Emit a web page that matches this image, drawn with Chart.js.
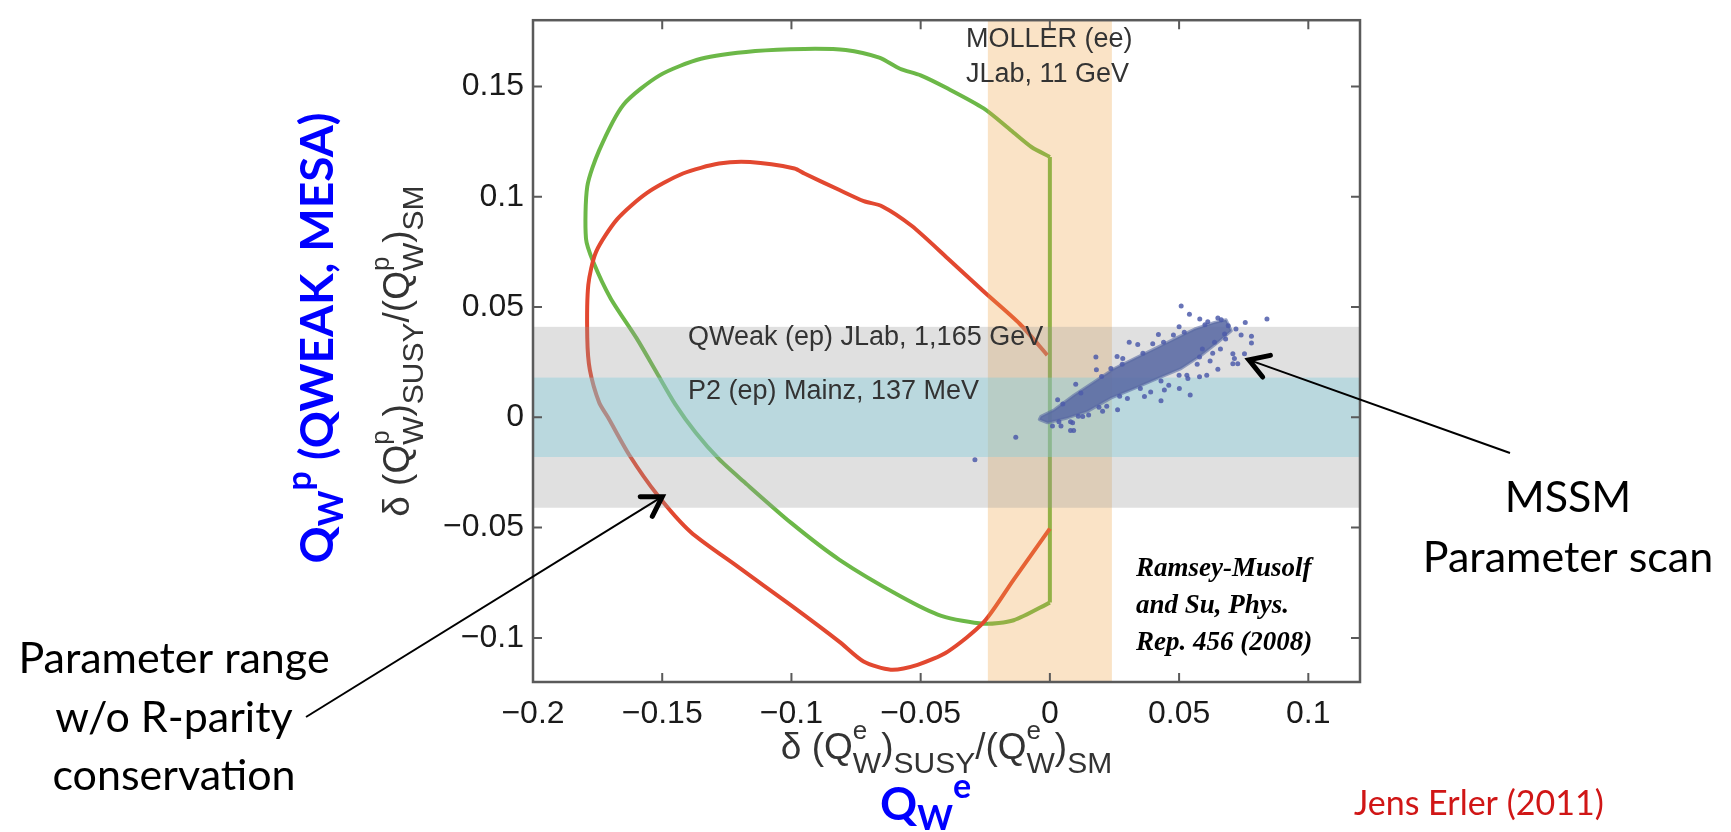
<!DOCTYPE html>
<html><head><meta charset="utf-8">
<script src="https://cdn.jsdelivr.net/npm/chart.js@4.4.1/dist/chart.umd.min.js"></script>
<style>html,body{margin:0;padding:0;background:#fff;overflow:hidden}canvas{display:block}</style>
</head><body>
<canvas id="c" width="1731" height="832"></canvas>
<script>
// ---------- data ----------
const xTicks = [-0.2, -0.15, -0.1, -0.05, 0, 0.05, 0.1];
const yTicks = [-0.1, -0.05, 0, 0.05, 0.1, 0.15];
const xRange = [-0.2, 0.12];
const yRange = [-0.12, 0.18];

const mollerBand = [-0.024, 0.024];   // MOLLER (ee), vertical band on x
const qweakBand  = [-0.041, 0.041];   // QWeak (ep), horizontal band on y
const p2Band     = [-0.018, 0.018];   // P2 (ep), horizontal band on y

// green contour (first two points: the straight side at x = 0)
const greenX = [0, 0, -0.007, -0.015, -0.0256, -0.0395, -0.050, -0.058, -0.066, -0.079, -0.095, -0.114, -0.135, -0.151, -0.165, -0.1744, -0.179, -0.1795, -0.1767, -0.170, -0.160, -0.152, -0.145, -0.137, -0.128, -0.1186, -0.100, -0.0814, -0.058, -0.042, -0.0256, -0.014, 0];
const greenY = [-0.084, 0.118, 0.1224, 0.130, 0.140, 0.149, 0.155, 0.158, 0.163, 0.1665, 0.167, 0.166, 0.1625, 0.155, 0.1417, 0.121, 0.1046, 0.081, 0.0705, 0.054, 0.036, 0.020, 0.006, -0.007, -0.019, -0.029, -0.048, -0.0646, -0.081, -0.090, -0.0936, -0.092, -0.084];

// red contour (w/o R-parity conservation)
const redX = [0, -0.014, -0.0256, -0.0395, -0.0512, -0.0616, -0.0721, -0.0814, -0.100, -0.1209, -0.139, -0.152, -0.1628, -0.171, -0.1744, -0.178, -0.179, -0.1786, -0.1756, -0.1674, -0.156, -0.142, -0.128, -0.116, -0.0988, -0.095, -0.0814, -0.072, -0.065, -0.0535, -0.0395, -0.0256, -0.0116, -0.001];
const redY = [-0.0505, -0.0736, -0.0929, -0.1062, -0.1122, -0.1144, -0.1107, -0.1018, -0.0854, -0.0676, -0.052, -0.035, -0.017, 0.0, 0.0067, 0.0215, 0.036, 0.060, 0.075, 0.0898, 0.1016, 0.1105, 0.115, 0.1157, 0.1128, 0.1105, 0.103, 0.098, 0.0957, 0.0868, 0.072, 0.057, 0.0423, 0.0282];

// dense core of the MSSM parameter scan (outline)
const coreX = [-0.0041, -0.0009, 0.0068, 0.0146, 0.0236, 0.0327, 0.0417, 0.0508, 0.0585, 0.065, 0.0702, 0.0682, 0.0637, 0.056, 0.0482, 0.0404, 0.0327, 0.0249, 0.0172, 0.0094, 0.0017, -0.0035];
const coreY = [-0.001, -0.0025, -0.0003, 0.0027, 0.0087, 0.0131, 0.0176, 0.0221, 0.028, 0.034, 0.0392, 0.0442, 0.043, 0.040, 0.0355, 0.031, 0.0266, 0.0221, 0.0161, 0.0101, 0.0034, 0.0004];

// individual scan points
const scanX = [0.0508, 0.054, 0.084, 0.0756, 0.074, 0.078, 0.078, 0.0708, 0.0753, 0.0714, 0.0708, 0.0727, 0.065, 0.0607, 0.0579, 0.0543, 0.0534, 0.0501, 0.043, 0.0443, 0.0366, 0.0178, 0.0307, 0.0398, 0.0478, 0.0262, 0.0204, 0.0127, 0.0088, 0.0092, 0.0043, -0.0132, 0.0282, 0.0236, 0.0579, 0.059, 0.0637, 0.0676, 0.0611, 0.0663, -0.029, 0.008, 0.005, 0.012, 0.020, 0.028, 0.036, 0.044, 0.052, 0.060, 0.0035, 0.011, 0.019, 0.027, 0.035, 0.043, 0.050, 0.057, 0.063, 0.068,
  0.039, 0.046, 0.053, 0.030, 0.022, 0.015, 0.008, 0.001, 0.062, 0.066, 0.069, 0.072, 0.065, 0.058, 0.050, 0.042, 0.034, 0.026, 0.018, 0.010, 0.003];
const scanY = [0.0504, 0.0467, 0.0445, 0.043, 0.0373, 0.0367, 0.0337, 0.0288, 0.0288, 0.0266, 0.0243, 0.0243, 0.0218, 0.0191, 0.0184, 0.0101, 0.0176, 0.0131, 0.0075, 0.0124, 0.0094, 0.0273, 0.034, 0.0333, 0.0373, 0.0034, 0.0027, 0.0004, -0.0025, -0.006, -0.004, -0.009, 0.0266, 0.0221, 0.0273, 0.031, 0.034, 0.0378, 0.0433, 0.0442, -0.0193, -0.006, 0.006, 0.011, 0.0185, 0.024, 0.029, 0.034, 0.0385, 0.042, -0.002, 0.0005, 0.0045, 0.0095, 0.013, 0.0165, 0.019, 0.024, 0.029, 0.0355,
  0.0115, 0.0145, 0.019, 0.0085, 0.005, 0.001, -0.002, -0.004, 0.0255, 0.031, 0.0415, 0.040, 0.045, 0.0445, 0.041, 0.0375, 0.033, 0.0275, 0.0215, 0.015, 0.008];

// ---------- helpers ----------
const zip = (xs, ys) => xs.map((x, i) => ({x: x, y: ys[i]}));
const fmt = v => (v < 0 ? '\u2212' + String(-v) : String(v));

function segWidth(ctx, s) {
  if (s.stack) {
    ctx.font = s.fsub; const a = ctx.measureText(s.sub).width;
    ctx.font = s.fsup; const b = ctx.measureText(s.sup).width;
    return Math.max(a, b);
  }
  ctx.font = s.f;
  return ctx.measureText(s.t).width;
}
function drawRich(ctx, segs, x, y, align) {
  const total = segs.reduce((w, s) => w + segWidth(ctx, s), 0);
  let cx = align === 'left' ? x : x - total / 2;
  ctx.textAlign = 'left';
  ctx.textBaseline = 'alphabetic';
  for (const s of segs) {
    const w = segWidth(ctx, s);
    if (s.stack) {
      ctx.font = s.fsub; ctx.fillText(s.sub, cx, y + s.dsub);
      ctx.font = s.fsup; ctx.fillText(s.sup, cx, y + s.dsup);
    } else {
      ctx.font = s.f;
      ctx.fillText(s.t, cx, y + (s.dy || 0));
    }
    cx += w;
  }
}
function arrow(ctx, x0, y0, x1, y1) {
  ctx.save();
  ctx.strokeStyle = '#000';
  ctx.lineWidth = 2;
  ctx.beginPath(); ctx.moveTo(x0, y0); ctx.lineTo(x1, y1); ctx.stroke();
  const ang = Math.atan2(y0 - y1, x0 - x1), L = 22, sp = 0.55;
  ctx.lineWidth = 5; ctx.lineCap = 'round'; ctx.lineJoin = 'miter';
  ctx.beginPath();
  ctx.moveTo(x1 + L * Math.cos(ang + sp), y1 + L * Math.sin(ang + sp));
  ctx.lineTo(x1, y1);
  ctx.lineTo(x1 + L * Math.cos(ang - sp), y1 + L * Math.sin(ang - sp));
  ctx.stroke();
  ctx.restore();
}

const overlay = {
  id: 'overlay',
  afterDatasetDraw(chart, args) {
    if (args.index !== 2) return;   // after the contours, before the scan points
    const {ctx, chartArea: a, scales: {x, y}} = chart;
    // translucent experiment bands over the contours
    ctx.save();
    ctx.beginPath(); ctx.rect(a.left, a.top, a.right - a.left, a.bottom - a.top); ctx.clip();
    const x0 = x.getPixelForValue(mollerBand[0]), x1 = x.getPixelForValue(mollerBand[1]);
    ctx.fillStyle = 'rgba(238,162,65,0.3)';
    ctx.fillRect(x0, a.top, x1 - x0, a.bottom - a.top);
    let y0 = y.getPixelForValue(qweakBand[1]), y1 = y.getPixelForValue(qweakBand[0]);
    ctx.fillStyle = 'rgba(152,152,152,0.3)';
    ctx.fillRect(a.left, y0, a.right - a.left, y1 - y0);
    y0 = y.getPixelForValue(p2Band[1]); y1 = y.getPixelForValue(p2Band[0]);
    ctx.fillStyle = 'rgba(129,204,219,0.4)';
    ctx.fillRect(a.left, y0, a.right - a.left, y1 - y0);
    ctx.restore();
    // dense core of the scan
    ctx.save();
    ctx.beginPath();
    coreX.forEach((v, i) => {
      const px = x.getPixelForValue(v), py = y.getPixelForValue(coreY[i]);
      if (i === 0) ctx.moveTo(px, py); else ctx.lineTo(px, py);
    });
    ctx.closePath();
    ctx.fillStyle = 'rgba(90,106,164,0.88)';
    ctx.strokeStyle = 'rgba(90,106,164,0.6)';
    ctx.lineWidth = 3; ctx.lineJoin = 'round';
    ctx.fill(); ctx.stroke();
    ctx.restore();
  },
  afterDraw(chart) {
    const {ctx, chartArea: a, scales: {x, y}} = chart;
    ctx.save();
    // frame + inward ticks
    ctx.strokeStyle = '#5a5a5a';
    ctx.lineWidth = 2.5;
    ctx.strokeRect(a.left, a.top, a.right - a.left, a.bottom - a.top);
    ctx.lineWidth = 2;
    ctx.beginPath();
    const T = 9;
    xTicks.forEach(v => {
      const px = x.getPixelForValue(v);
      ctx.moveTo(px, a.bottom); ctx.lineTo(px, a.bottom - T);
      ctx.moveTo(px, a.top); ctx.lineTo(px, a.top + T);
    });
    yTicks.forEach(v => {
      const py = y.getPixelForValue(v);
      ctx.moveTo(a.left, py); ctx.lineTo(a.left + T, py);
      ctx.moveTo(a.right, py); ctx.lineTo(a.right - T, py);
    });
    ctx.stroke();

    // texts inside the plot
    ctx.fillStyle = '#333';
    ctx.textAlign = 'left'; ctx.textBaseline = 'alphabetic';
    ctx.font = '27px "Liberation Sans", Arial, sans-serif';
    ctx.fillText('MOLLER (ee)', 966, 47);
    ctx.fillText('JLab, 11 GeV', 966, 82);
    ctx.fillText('QWeak (ep) JLab, 1,165 GeV', 688, 345);
    ctx.fillText('P2 (ep) Mainz, 137 MeV', 688, 399);
    ctx.fillStyle = '#000';
    ctx.font = 'italic bold 27px "Liberation Serif", "Times New Roman", serif';
    ctx.fillText('Ramsey-Musolf', 1136, 576);
    ctx.fillText('and Su, Phys.', 1136, 613);
    ctx.fillText('Rep. 456 (2008)', 1136, 650);

    // axis titles
    const M = '37px "Liberation Sans", Arial, sans-serif';
    const S = '30px "Liberation Sans", Arial, sans-serif';
    const P = '26px "Liberation Sans", Arial, sans-serif';
    const lab = sup => [
      {t: '\u03B4 (Q', f: M},
      {stack: true, sub: 'W', sup: sup, fsub: S, fsup: P, dsub: 14, dsup: -20},
      {t: ')', f: M},
      {t: 'SUSY', f: S, dy: 14},
      {t: '/(Q', f: M},
      {stack: true, sub: 'W', sup: sup, fsub: S, fsup: P, dsub: 14, dsup: -20},
      {t: ')', f: M},
      {t: 'SM', f: S, dy: 14}
    ];
    ctx.fillStyle = '#333';
    drawRich(ctx, lab('e'), (a.left + a.right) / 2, 759, 'center');
    ctx.save();
    ctx.translate(409, (a.top + a.bottom) / 2);
    ctx.rotate(-Math.PI / 2);
    drawRich(ctx, lab('p'), 0, 0, 'center');
    ctx.restore();

    // big blue labels
    const BM = 'bold 46px Lato, "Open Sans", sans-serif';
    const BS = 'bold 34px Lato, "Open Sans", sans-serif';
    ctx.fillStyle = '#0000ff';
    ctx.save();
    ctx.translate(333, 338);
    ctx.rotate(-Math.PI / 2);
    drawRich(ctx, [
      {t: 'Q', f: BM}, {t: 'W', f: BS, dy: 10}, {t: 'p', f: BS, dy: -22}, {t: ' (QWEAK, MESA)', f: BM}
    ], 0, 0, 'center');
    ctx.restore();
    drawRich(ctx, [
      {t: 'Q', f: BM}, {t: 'W', f: BS, dy: 10}, {t: 'e', f: BS, dy: -22}
    ], 880, 820, 'left');

    // annotations
    ctx.fillStyle = '#000';
    ctx.textAlign = 'center';
    ctx.font = '43px Lato, "Open Sans", sans-serif';
    ctx.fillText('Parameter range', 174, 673);
    ctx.fillText('w/o R-parity', 174, 732);
    ctx.fillText('conservation', 174, 790);
    ctx.fillText('MSSM', 1568, 512);
    ctx.fillText('Parameter scan', 1568, 572);
    ctx.fillStyle = 'rgb(208,22,22)';
    ctx.textAlign = 'left';
    ctx.font = '34px Lato, "Open Sans", sans-serif';
    ctx.fillText('Jens Erler (2011)', 1354, 815);

    arrow(ctx, 306, 717, x.getPixelForValue(-0.150), y.getPixelForValue(-0.036));
    arrow(ctx, 1510, 453, x.getPixelForValue(0.077), y.getPixelForValue(0.026));
    ctx.restore();
  }
};

const green = zip(greenX, greenY);
const tickFont = {family: '"Liberation Sans", Arial, sans-serif', size: 32};
new Chart(document.getElementById('c'), {
  type: 'scatter',
  data: {
    datasets: [
      {data: green.slice(0, 2), showLine: true, borderColor: 'rgb(108,184,72)', borderWidth: 4, pointRadius: 0, tension: 0, order: 4},
      {data: green.slice(1), showLine: true, borderColor: 'rgb(108,184,72)', borderWidth: 4, pointRadius: 0, tension: 0.25, order: 4},
      {data: zip(redX, redY), showLine: true, borderColor: 'rgb(226,72,48)', borderWidth: 4, pointRadius: 0, tension: 0.25, order: 3},
      {data: zip(scanX, scanY), showLine: false, pointRadius: 2.5, pointBorderWidth: 0, backgroundColor: 'rgba(78,92,170,0.85)', order: 1}
    ]
  },
  options: {
    responsive: false, animation: false, devicePixelRatio: 1,
    layout: {padding: {left: 0, right: 371, top: 12, bottom: 0}},
    plugins: {legend: {display: false}, tooltip: {enabled: false}},
    scales: {
      x: {
        type: 'linear', min: xRange[0], max: xRange[1],
        grid: {display: false}, border: {display: false},
        afterBuildTicks: s => { s.ticks = xTicks.map(v => ({value: v})); },
        afterFit: s => { s.height = 150; },
        ticks: {font: tickFont, color: '#1a1a1a', padding: 5, maxRotation: 0, autoSkip: false, callback: fmt}
      },
      y: {
        type: 'linear', min: yRange[0], max: yRange[1],
        grid: {display: false}, border: {display: false},
        afterBuildTicks: s => { s.ticks = yTicks.map(v => ({value: v})); },
        afterFit: s => { s.width = 533; },
        ticks: {font: tickFont, color: '#1a1a1a', padding: 1, autoSkip: false, callback: fmt}
      }
    }
  },
  plugins: [overlay]
});
</script>
</body></html>
